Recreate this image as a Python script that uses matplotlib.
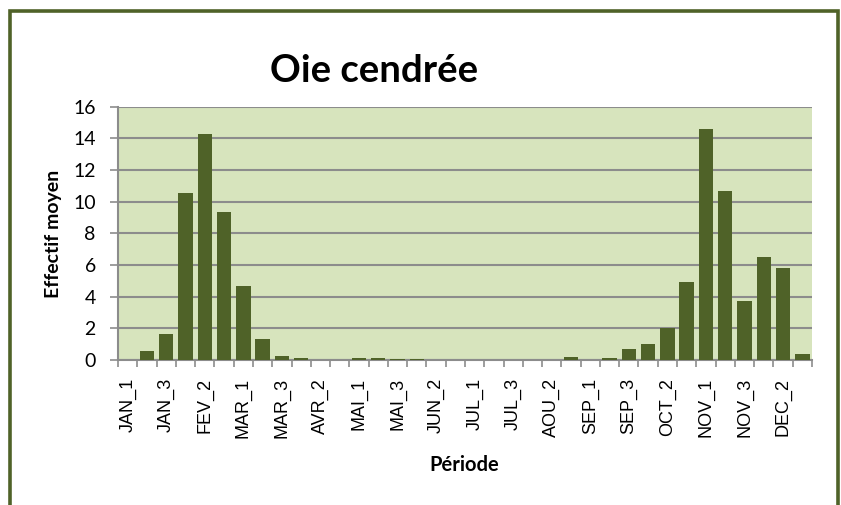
import numpy as np
import matplotlib
matplotlib.use("Agg")
import matplotlib.pyplot as plt
from matplotlib.patches import Rectangle

months = ["JAN", "FEV", "MAR", "AVR", "MAI", "JUN",
          "JUL", "AOU", "SEP", "OCT", "NOV", "DEC"]
periods = [m + "_" + str(k) for m in months for k in (1, 2, 3)]
values = [0, 0.57, 1.63, 10.57, 14.25, 9.32,
          4.65, 1.3, 0.25, 0.1, 0.02, 0.02,
          0.1, 0.1, 0.05, 0.05, 0, 0,
          0.02, 0.02, 0.02, 0.02, 0.02, 0.19,
          0, 0.1, 0.69, 0.99, 2.04, 4.9,
          14.6, 10.65, 3.73, 6.48, 5.83, 0.4]

bar_color = "#4F6228"
bg_color = "#D7E4BD"
grid_color = "#8C8C8C"
calibri = ["Lato", "DejaVu Sans"]

fig = plt.figure(figsize=(8.41, 5.05), dpi=100)
W, H = 841, 505
ax = fig.add_axes([118 / W, 1 - 360 / H, (812 - 118) / W, (360 - 106.5) / H])
ax.set_facecolor(bg_color)

x = np.arange(len(periods))
ax.bar(x, values, width=0.75, color=bar_color, zorder=3)

ax.set_xlim(-0.5, len(periods) - 0.5)
ax.set_ylim(0, 16)
ax.set_yticks(np.arange(0, 17, 2))
ax.yaxis.grid(True, color=grid_color, linewidth=1.5, zorder=1)
ax.set_axisbelow(True)

ax.set_xticks(x[::2])
ax.set_xticklabels(periods[::2], rotation=90, fontsize=13,
                   family="Liberation Sans")
ax.set_xticks(np.arange(-0.5, len(periods)), minor=True)
ax.tick_params(axis="x", which="major", length=0, pad=13)
ax.tick_params(axis="x", which="minor", length=5, width=1.2, color=grid_color)
ax.tick_params(axis="y", length=6, width=1.2, color=grid_color, pad=10)
for lbl in ax.get_yticklabels():
    lbl.set_family(calibri)
    lbl.set_fontsize(14)

for s in ["top", "right"]:
    ax.spines[s].set_visible(False)
for s in ["left", "bottom"]:
    ax.spines[s].set_color(grid_color)
    ax.spines[s].set_linewidth(1.5)

fig.text(53 / W, 1 - 234 / H, "Effectif moyen", fontsize=14, fontweight="bold",
         family=calibri, ha="center", va="center", rotation=90)
fig.text(464 / W, 1 - 465 / H, "Période", fontsize=14.5, fontweight="bold",
         family=calibri, ha="center", va="center")
fig.text(374 / W, 1 - 81.5 / H, "Oie cendrée", fontsize=27.5, fontweight="bold",
         family=calibri, ha="center", va="baseline")

# outer chart border
fig.patches.append(Rectangle((9.5 / W, -0.1), (837.5 - 9.5) / W, 1.1 - 10.5 / H,
                             transform=fig.transFigure, fill=False,
                             edgecolor=bar_color, linewidth=2.6))

fig.savefig("out.png", dpi=100)
